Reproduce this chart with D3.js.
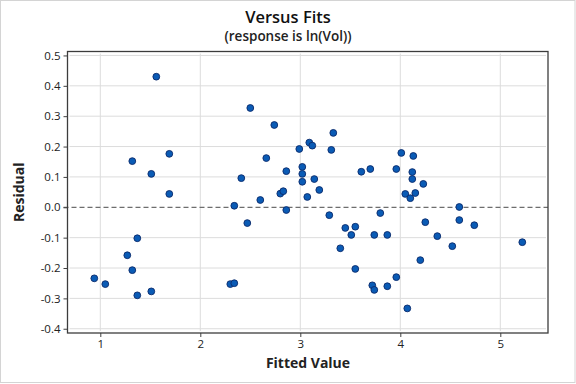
<!DOCTYPE html>
<html>
<head>
<script src="https://cdnjs.cloudflare.com/ajax/libs/d3/7.8.5/d3.min.js"></script>
<style>
  body { margin: 0; background: #fff; }
  text { font-family: "Open Sans", "Noto Sans", sans-serif; }
</style>
</head>
<body>
<div id="chart"></div>
<script>
// fitted values and residuals
var fitted = [0.94, 1.05, 1.27, 1.32, 1.32, 1.37, 1.37, 1.51, 1.51, 1.56, 1.69, 1.69,
  2.30, 2.34, 2.34, 2.41, 2.47, 2.50, 2.60, 2.66, 2.74, 2.80, 2.83, 2.86, 2.86,
  2.99, 3.02, 3.02, 3.02, 3.07, 3.09, 3.12, 3.14, 3.19, 3.29, 3.31, 3.33, 3.40,
  3.45, 3.51, 3.55, 3.55, 3.61, 3.70, 3.72, 3.74, 3.74, 3.80, 3.87, 3.87, 3.96,
  3.96, 4.01, 4.05, 4.07, 4.10, 4.12, 4.12, 4.13, 4.15, 4.20, 4.23, 4.25, 4.37,
  4.52, 4.59, 4.59, 4.74, 5.22];
var residual = [-0.234, -0.253, -0.158, -0.207, 0.152, -0.102, -0.290, -0.277, 0.110, 0.430, 0.176, 0.044,
  -0.253, -0.250, 0.005, 0.096, -0.052, 0.327, 0.024, 0.162, 0.271, 0.045, 0.053, 0.119, -0.009,
  0.192, 0.133, 0.110, 0.084, 0.034, 0.213, 0.203, 0.093, 0.057, -0.026, 0.189, 0.245, -0.135,
  -0.068, -0.091, -0.064, -0.203, 0.117, 0.126, -0.257, -0.272, -0.091, -0.019, -0.091, -0.260, 0.126,
  -0.230, 0.179, 0.044, -0.333, 0.030, 0.116, 0.093, 0.169, 0.047, -0.174, 0.077, -0.049, -0.095,
  -0.128, 0.001, -0.042, -0.059, -0.115];
var xTicks = [1, 2, 3, 4, 5];
var yTicks = [-0.4, -0.3, -0.2, -0.1, 0.0, 0.1, 0.2, 0.3, 0.4, 0.5];

var W = 576, H = 384;
var pLeft = 67.5, pRight = 548, pTop = 51.5, pBottom = 333;

var svg = d3.select("#chart").append("svg")
  .attr("width", W).attr("height", H);

svg.append("rect")
  .attr("x", 0.5).attr("y", 0.5)
  .attr("width", W - 1.5).attr("height", H - 2)
  .attr("fill", "#fff").attr("stroke", "#d4d4d4");

var x = d3.scaleLinear().domain([0.672, 5.477]).range([pLeft, pRight]);
var y = d3.scaleLinear().domain([-0.414, 0.513]).range([pBottom, pTop]);

// gridlines
svg.append("g").selectAll("line").data(xTicks).enter().append("line")
  .attr("x1", function(d){ return x(d); }).attr("x2", function(d){ return x(d); })
  .attr("y1", pTop + 2).attr("y2", pBottom - 2)
  .attr("stroke", "#dcdcdc").attr("stroke-width", 1);
svg.append("g").selectAll("line").data(yTicks.filter(function(d){ return d !== 0; })).enter().append("line")
  .attr("x1", pLeft + 2).attr("x2", pRight - 2)
  .attr("y1", function(d){ return y(d); }).attr("y2", function(d){ return y(d); })
  .attr("stroke", "#dcdcdc").attr("stroke-width", 1);

// reference line at zero
svg.append("line")
  .attr("x1", pLeft - 4).attr("x2", pRight)
  .attr("y1", y(0)).attr("y2", y(0))
  .attr("stroke", "#6e6e6e").attr("stroke-width", 1.2)
  .attr("stroke-dasharray", "5,3");

// axes
var xAxis = d3.axisBottom(x).tickValues(xTicks).tickSize(4).tickPadding(3)
  .tickFormat(d3.format("d"));
var yAxis = d3.axisLeft(y).tickValues(yTicks).tickSize(4).tickPadding(3)
  .tickFormat(function(d){ return d3.format(".1f")(d).replace("−", "-"); });

var gx = svg.append("g").attr("transform", "translate(0," + pBottom + ")").call(xAxis);
var gy = svg.append("g").attr("transform", "translate(" + pLeft + ",0)").call(yAxis);
[gx, gy].forEach(function(g){
  g.select(".domain").remove();
  g.selectAll("line").attr("stroke", "#404040");
  g.selectAll("text").attr("fill", "#222").style("font-size", "11.5px");
});

svg.append("rect")
  .attr("x", pLeft).attr("y", pTop)
  .attr("width", pRight - pLeft).attr("height", pBottom - pTop)
  .attr("fill", "none").attr("stroke", "#3c3c3c").attr("stroke-width", 1.3);

// points
svg.append("g").selectAll("circle").data(fitted).enter().append("circle")
  .attr("cx", function(d){ return x(d); })
  .attr("cy", function(d, i){ return y(residual[i]); })
  .attr("r", 3.4)
  .attr("fill", "#0a5bb5")
  .attr("stroke", "#0b2a6b").attr("stroke-width", 0.9);

// titles
svg.append("text").attr("x", 288).attr("y", 23).attr("text-anchor", "middle")
  .style("font-size", "16.5px").style("font-weight", "600").attr("fill", "#111")
  .text("Versus Fits");
svg.append("text").attr("x", 288).attr("y", 41).attr("text-anchor", "middle")
  .style("font-size", "13.5px").style("font-weight", "600").attr("fill", "#222")
  .text("(response is ln(Vol))");
svg.append("text").attr("x", 308).attr("y", 368).attr("text-anchor", "middle")
  .style("font-size", "14px").style("font-weight", "bold").attr("fill", "#222")
  .text("Fitted Value");
svg.append("text").attr("transform", "translate(24," + ((pTop + pBottom) / 2) + ") rotate(-90)")
  .attr("text-anchor", "middle")
  .style("font-size", "14px").style("font-weight", "bold").attr("fill", "#222")
  .text("Residual");
</script>
</body>
</html>
